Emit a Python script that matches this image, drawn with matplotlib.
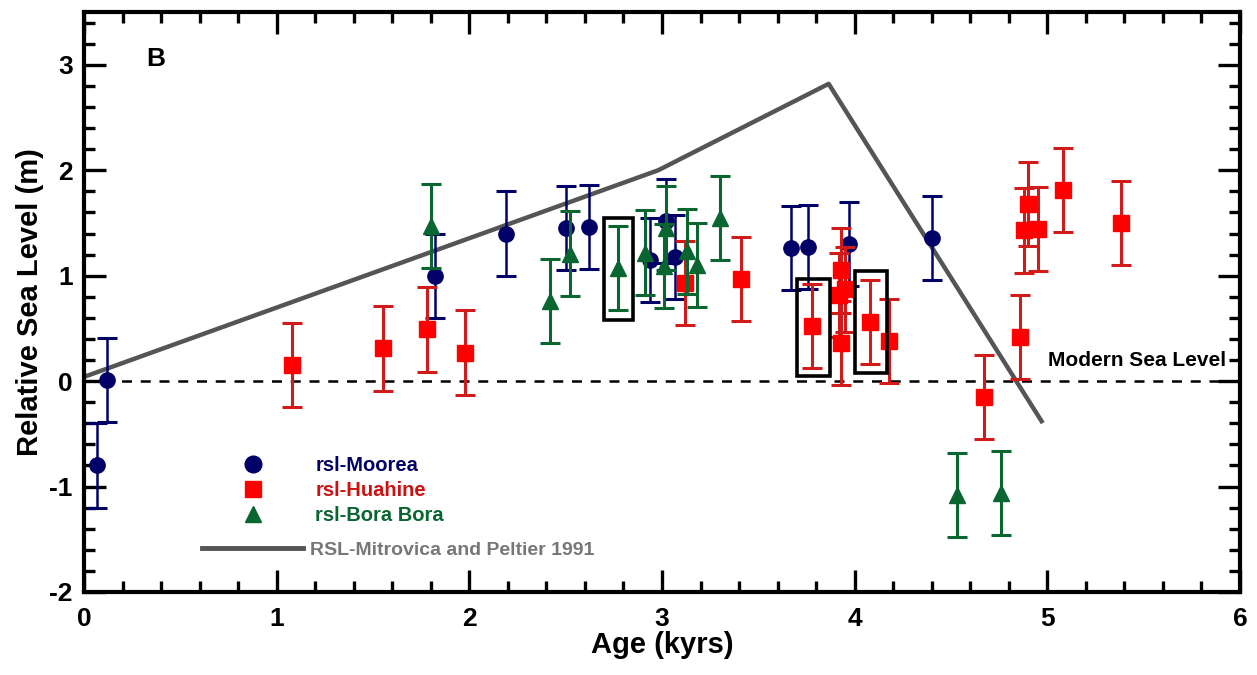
import matplotlib
matplotlib.use("Agg")
import matplotlib.pyplot as plt
import matplotlib.lines as mlines
from matplotlib.patches import Rectangle
from matplotlib.ticker import MultipleLocator

plt.rcParams['font.family'] = ['Liberation Sans', 'DejaVu Sans']
plt.rcParams['font.weight'] = 'bold'
plt.rcParams['axes.unicode_minus'] = False

# -----------------------------
# Data
# -----------------------------
moorea_age = [0.07, 0.12, 1.82, 2.19, 2.50, 2.62, 2.94, 3.02, 3.07, 3.67, 3.76, 3.97, 4.40]
moorea_rsl = [-0.80, 0.01, 1.00, 1.40, 1.45, 1.46, 1.15, 1.52, 1.18, 1.26, 1.27, 1.30, 1.36]
moorea_err = [0.40, 0.40, 0.40, 0.40, 0.40, 0.40, 0.40, 0.40, 0.40, 0.40, 0.40, 0.40, 0.40]

huahine_age = [1.08, 1.55, 1.78, 1.98, 3.12, 3.41, 3.78, 3.93, 3.92, 3.95, 3.93,
               4.08, 4.18, 4.67, 4.86, 4.90, 4.88, 4.95, 5.08, 5.38]
huahine_rsl = [0.15, 0.31, 0.49, 0.27, 0.93, 0.97, 0.52, 1.05, 0.82, 0.87, 0.36,
               0.56, 0.38, -0.15, 0.42, 1.68, 1.43, 1.44, 1.81, 1.50]
huahine_err = [0.40] * len(huahine_age)

bora_age = [1.80, 2.42, 2.52, 2.77, 2.91, 3.01, 3.02, 3.13, 3.18, 3.30, 4.53, 4.76]
bora_rsl = [1.47, 0.76, 1.21, 1.07, 1.22, 1.09, 1.45, 1.23, 1.10, 1.55, -1.08, -1.06]
bora_err = [0.40] * len(bora_age)

# Mitrovica & Peltier 1991 model curve
model_age = [0.0, 2.98, 3.865, 4.97]
model_rsl = [0.04, 2.0, 2.82, -0.38]

# Boxed samples: (age left, rsl bottom, width, height)
boxes = [(2.70, 0.58, 0.15, 0.97),
         (3.70, 0.05, 0.17, 0.92),
         (4.00, 0.08, 0.17, 0.96)]

navy = '#000066'
red = '#ff0000'
red_bar = '#d11a1a'
green = '#0a6631'
gray = '#555555'

# -----------------------------
# Figure
# -----------------------------
fig = plt.figure(figsize=(12.57, 6.75), dpi=100)
ax = fig.add_axes([0.0668, 0.123, 0.9197, 0.859])

ax.axhline(0, color='black', lw=1.8, ls=(0, (4, 3.5)), zorder=1)

ax.plot(model_age, model_rsl, color=gray, lw=3.2, zorder=2)

ax.errorbar(moorea_age, moorea_rsl, yerr=moorea_err, fmt='o', color=navy,
            ms=11, ecolor=navy, elinewidth=1.8, capsize=7.5, capthick=2.2, zorder=4)
ax.errorbar(huahine_age, huahine_rsl, yerr=huahine_err, fmt='s', color=red,
            ms=12, ecolor=red_bar, elinewidth=2.2, capsize=7.5, capthick=2.2, zorder=5)
ax.errorbar(bora_age, bora_rsl, yerr=bora_err, fmt='^', color=green,
            ms=12, ecolor=green, elinewidth=2.2, capsize=7.5, capthick=2.2, zorder=6)

for x0, y0, w, h in boxes:
    ax.add_patch(Rectangle((x0, y0), w, h, fill=False, ec='black', lw=2.6, zorder=7))

# -----------------------------
# Axes styling
# -----------------------------
ax.set_xlim(0, 6)
ax.set_ylim(-2, 3.5)
ax.xaxis.set_major_locator(MultipleLocator(1))
ax.xaxis.set_minor_locator(MultipleLocator(0.2))
ax.yaxis.set_major_locator(MultipleLocator(1))
ax.yaxis.set_minor_locator(MultipleLocator(0.2))
ax.tick_params(which='both', direction='in', top=True, right=True, width=2.4)
ax.tick_params(which='major', length=16, labelsize=19, pad=8)
ax.tick_params(axis='x', which='major', pad=11)
ax.tick_params(which='minor', length=8)
for s in ax.spines.values():
    s.set_linewidth(3)
for lab in ax.get_xticklabels() + ax.get_yticklabels():
    lab.set_fontweight('bold')

ax.set_xlabel("Age (kyrs)", fontsize=21, fontweight='bold', labelpad=0)
ax.set_ylabel("Relative Sea Level (m)", fontsize=21, fontweight='bold', labelpad=4)

ax.text(0.37, 3.06, "B", fontsize=19, fontweight='bold', ha='center', va='center')
ax.text(5.93, 0.2, "Modern Sea Level", fontsize=15, fontweight='bold', ha='right', va='center')

# -----------------------------
# Legends
# -----------------------------
h_moorea = mlines.Line2D([], [], color=navy, marker='o', ms=12, ls='None', label='rsl-Moorea')
h_huahine = mlines.Line2D([], [], color=red, marker='s', ms=11, ls='None', label='rsl-Huahine')
h_bora = mlines.Line2D([], [], color=green, marker='^', ms=12, ls='None', label='rsl-Bora Bora')
leg1 = ax.legend(handles=[h_moorea, h_huahine, h_bora], loc='upper left',
                 bbox_to_anchor=(0.1375, 0.2345), frameon=False, fontsize=14.5,
                 labelcolor=[navy, '#cc1111', green], handletextpad=2.6,
                 labelspacing=0.3, handlelength=1.0, borderpad=0, borderaxespad=0)
for t in leg1.get_texts():
    t.set_fontweight('bold')
ax.add_artist(leg1)

h_model = mlines.Line2D([], [], color=gray, lw=3.5, label='RSL-Mitrovica and Peltier 1991')
leg2 = ax.legend(handles=[h_model], loc='center left', bbox_to_anchor=(0.102, 0.0724),
                 frameon=False, fontsize=14, labelcolor='#777777',
                 handlelength=5.2, handletextpad=0.36, borderpad=0, borderaxespad=0)
for t in leg2.get_texts():
    t.set_fontweight('bold')

fig.savefig("out.png", dpi=100)
